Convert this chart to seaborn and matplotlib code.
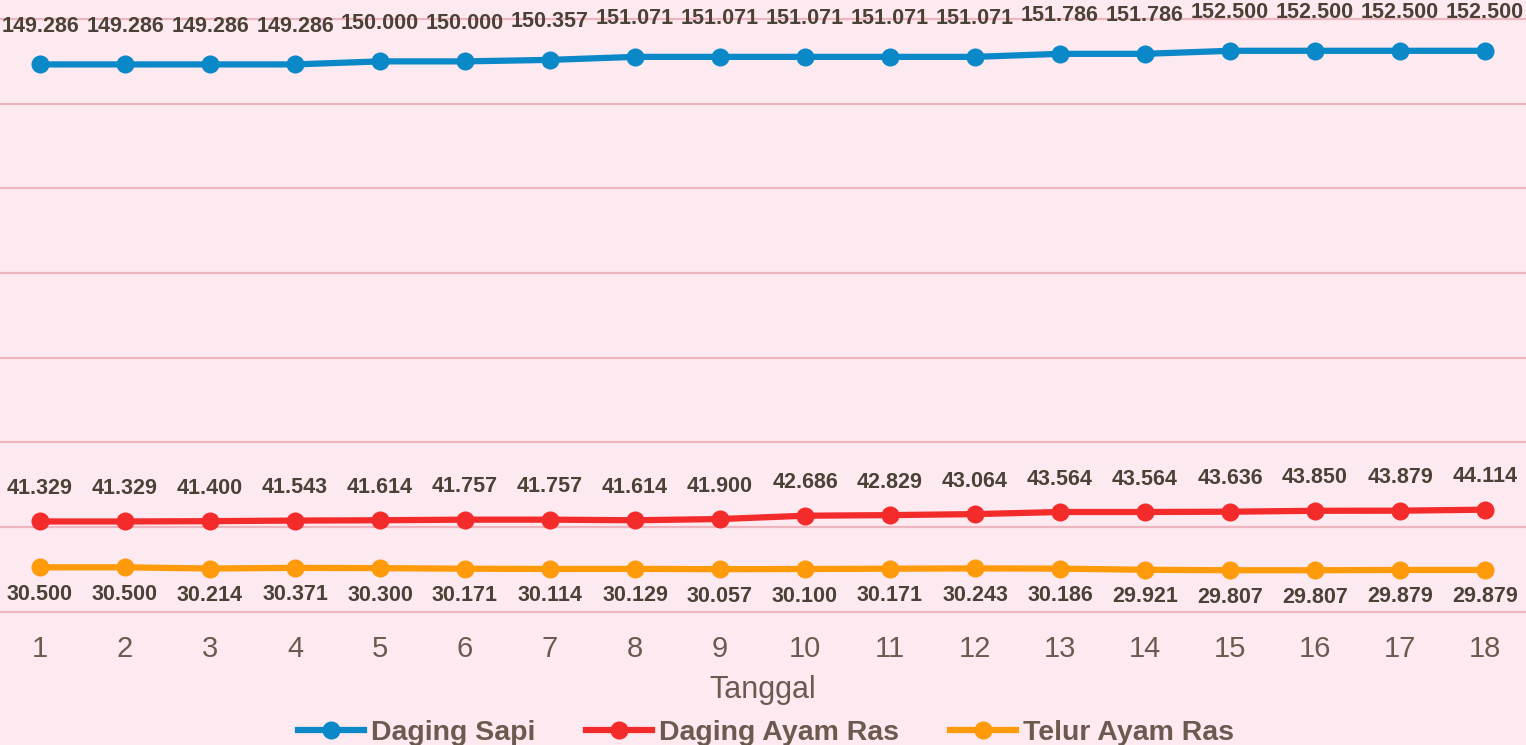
import pandas as pd
import seaborn as sns
import matplotlib.pyplot as plt

# data
tanggal = list(range(1, 19))
daging_sapi = [149.286, 149.286, 149.286, 149.286, 150.000, 150.000, 150.357, 151.071, 151.071,
               151.071, 151.071, 151.071, 151.786, 151.786, 152.500, 152.500, 152.500, 152.500]
daging_ayam = [41.329, 41.329, 41.400, 41.543, 41.614, 41.757, 41.757, 41.614, 41.900,
               42.686, 42.829, 43.064, 43.564, 43.564, 43.636, 43.850, 43.879, 44.114]
telur_ayam = [30.500, 30.500, 30.214, 30.371, 30.300, 30.171, 30.114, 30.129, 30.057,
              30.100, 30.171, 30.243, 30.186, 29.921, 29.807, 29.807, 29.879, 29.879]
seri = ['Daging Sapi', 'Daging Ayam Ras', 'Telur Ayam Ras']
warna = ['#0A88C8', '#F42B2B', '#FF9A0A']

df = pd.DataFrame({
    'Tanggal': tanggal * 3,
    'Harga': daging_sapi + daging_ayam + telur_ayam,
    'Komoditas': [seri[0]] * 18 + [seri[1]] * 18 + [seri[2]] * 18,
})

plt.rcParams['font.family'] = ['Liberation Sans', 'DejaVu Sans']

bg = '#FDEAF0'
teks = '#4A4236'
abu = '#6B5A50'
fig = plt.figure(figsize=(15.26, 7.45), dpi=100, facecolor=bg)
ax = fig.add_axes([0, 0.176, 1, 0.824], facecolor=bg)

sns.lineplot(data=df, x='Tanggal', y='Harga', hue='Komoditas', palette=warna,
             marker='o', markersize=13, markeredgewidth=0, linewidth=4.5, ax=ax, legend=False)

# label nilai
for y, off in [(daging_sapi, 38), (daging_ayam, 33)]:
    for x, v in zip(tanggal, y):
        ax.annotate(f'{v:.3f}', (x, v), xytext=(0, off), textcoords='offset pixels',
                    ha='center', va='center', fontsize=15.5, fontweight='bold', color=teks)
for x, v in zip(tanggal, telur_ayam):
    ax.annotate(f'{v:.3f}', (x, v), xytext=(0, -27), textcoords='offset pixels',
                ha='center', va='center', fontsize=15.5, fontweight='bold', color=teks)

ax.set_xlim(1 - 40 / 85, 18 + 41 / 85)
ax.set_ylim(19.5, 164.5)
ax.set_yticks(range(20, 161, 20))
ax.set_xticks(tanggal)
ax.grid(axis='y', color='#EFB5BE', linewidth=1.6)
ax.grid(axis='x', visible=False)
ax.set_axisbelow(True)
for s in ax.spines.values():
    s.set_visible(False)
ax.tick_params(axis='y', left=False, labelleft=False)
ax.tick_params(axis='x', bottom=False, labelsize=21, labelcolor=abu, pad=12)
ax.set_xlabel('Tanggal', fontsize=22, color=abu, labelpad=8)
ax.set_ylabel('')

handles = [plt.Line2D([], [], color=c, marker='o', markersize=12, linewidth=4.5) for c in warna]
leg = fig.legend(handles, seri, loc='center', bbox_to_anchor=(0.502, 0.016), ncol=3,
                 frameon=False, handlelength=2.3, handletextpad=0.25, columnspacing=1.8,
                 prop={'size': 20.5, 'weight': 'bold'})
for t in leg.get_texts():
    t.set_color(abu)

fig.savefig('out.png', dpi=100, facecolor=bg)
